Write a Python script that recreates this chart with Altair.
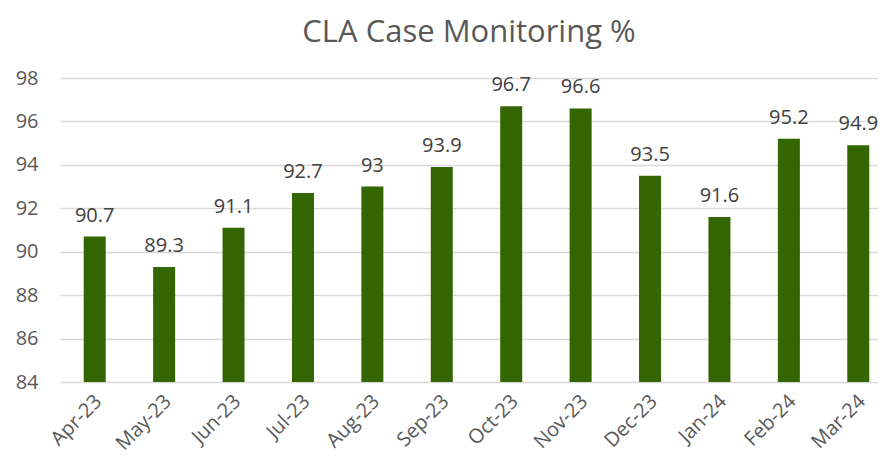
import altair as alt
import pandas as pd

months = ["Apr-23", "May-23", "Jun-23", "Jul-23", "Aug-23", "Sep-23",
          "Oct-23", "Nov-23", "Dec-23", "Jan-24", "Feb-24", "Mar-24"]
values = [90.7, 89.3, 91.1, 92.7, 93, 93.9, 96.7, 96.6, 93.5, 91.6, 95.2, 94.9]
labels = ["90.7", "89.3", "91.1", "92.7", "93", "93.9", "96.7", "96.6", "93.5", "91.6", "95.2", "94.9"]
y_ticks = [84, 86, 88, 90, 92, 94, 96, 98]

df = pd.DataFrame({"month": months, "value": values, "label": labels})

FONT = "Open Sans"
GRAY = "#595959"

x = alt.X("month:N", sort=months, title=None,
          scale=alt.Scale(paddingInner=0.0, paddingOuter=0.0, range=[0, 833]),
          axis=alt.Axis(labelAngle=-45, labelAlign="right", labelBaseline="middle",
                        labelFontSize=20, labelColor=GRAY, labelFont=FONT,
                        ticks=False, domain=False, labelPadding=16, labelOffset=4,
                        grid=False))
y = alt.Y("value:Q", title=None,
          scale=alt.Scale(domain=[84, 98], nice=False, zero=False),
          axis=alt.Axis(values=y_ticks, labelFontSize=20, labelColor=GRAY, labelFont=FONT,
                        ticks=False, domain=False, labelPadding=22,
                        gridColor="#d9d9d9", gridWidth=1.3))

bars = alt.Chart(df).mark_bar(color="#336600", size=22, clip=True).encode(x=x, y=y)
text = alt.Chart(df).mark_text(baseline="bottom", dy=-11, fontSize=20, color="#404040", font=FONT).encode(
    x=alt.X("month:N", sort=months), y="value:Q", text="label:N")

chart = alt.layer(bars, text).properties(
    width=818, height=304,
    padding={"left": 52, "top": 70, "right": 0, "bottom": 75},
    autosize=alt.AutoSizeParams(type="none"),
    title=alt.TitleParams("CLA Case Monitoring %", fontSize=31, font=FONT, fontWeight="normal",
                          color=GRAY, anchor="middle", offset=19),
).configure_view(stroke=None)

chart.save("out.html", embed_options={"renderer": "svg", "actions": False})
